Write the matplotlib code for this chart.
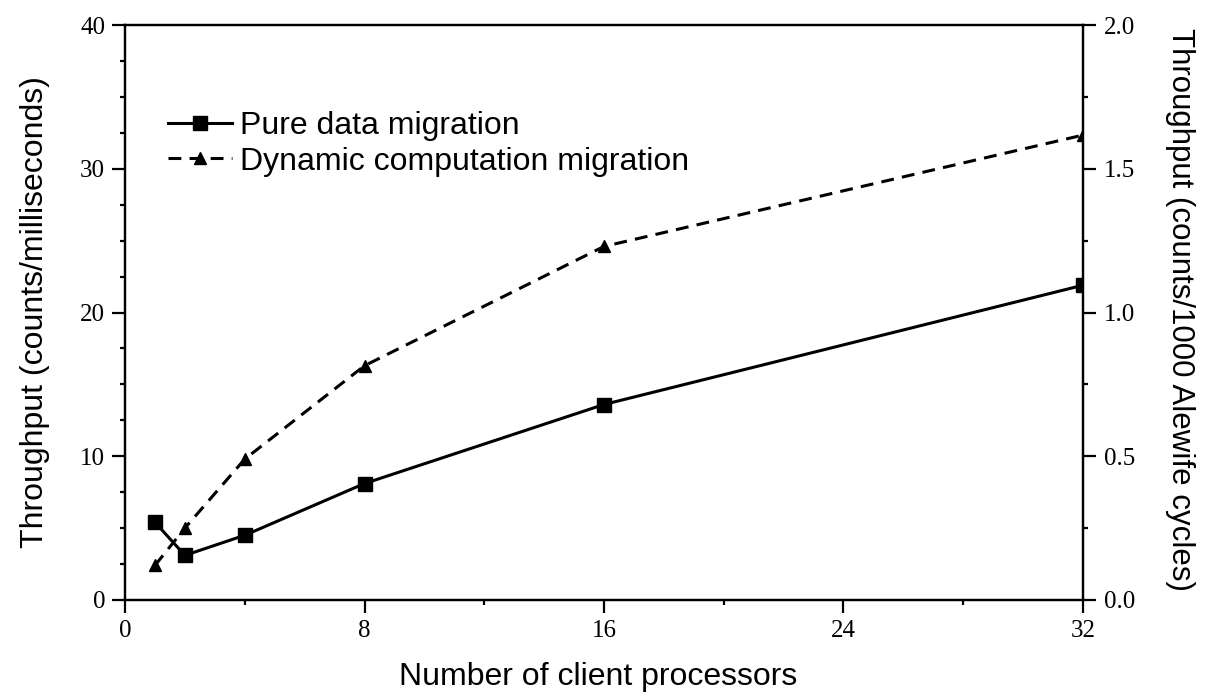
import matplotlib
matplotlib.use("Agg")
import matplotlib.pyplot as plt
from matplotlib.ticker import MultipleLocator, FormatStrFormatter

# data
procs = [1, 2, 4, 8, 16, 32]
pure_data = [5.4, 3.1, 4.5, 8.1, 13.6, 21.9]
dyn_comp = [2.4, 5.0, 9.8, 16.3, 24.6, 32.35]

serif = ['Liberation Serif', 'DejaVu Serif']
sans = ['Liberation Sans', 'DejaVu Sans']

fig = plt.figure(figsize=(12.14, 7.0), dpi=100)
ax = fig.add_axes([0.103, 0.143, 0.789, 0.821])

ax.plot(procs, pure_data, color='black', lw=2.2, marker='s', ms=10,
        label="Pure data migration")
ax.plot(procs, dyn_comp, color='black', lw=2.2, marker='^', ms=8,
        dashes=(4.2, 2.7), label="Dynamic computation migration")

ax.set_xlim(0, 32)
ax.set_ylim(0, 40)
ax.xaxis.set_major_locator(MultipleLocator(8))
ax.xaxis.set_minor_locator(MultipleLocator(4))
ax.yaxis.set_major_locator(MultipleLocator(10))
ax.yaxis.set_minor_locator(MultipleLocator(2.5))
ax.tick_params(which='major', direction='out', length=9.4, width=1.6, pad=5)
ax.tick_params(which='minor', direction='out', length=3.8, width=1.6)
ax.tick_params(top=False, right=False)
for s in ax.spines.values():
    s.set_linewidth(1.6)

ax2 = ax.twinx()
ax2.set_ylim(0, 2.0)
ax2.yaxis.set_major_locator(MultipleLocator(0.5))
ax2.yaxis.set_minor_locator(MultipleLocator(0.25))
ax2.yaxis.set_major_formatter(FormatStrFormatter('%.1f'))
ax2.tick_params(which='major', direction='out', length=9.4, width=1.6, pad=6)
ax2.tick_params(which='minor', direction='out', length=3.8, width=1.6)
for s in ax2.spines.values():
    s.set_linewidth(1.6)

for a in (ax, ax2):
    for lab in a.get_xticklabels() + a.get_yticklabels():
        lab.set_family(serif)
        lab.set_fontsize(18)

ax.set_xlabel("Number of client processors", family=sans, fontsize=23, va='center')
ax.xaxis.set_label_coords(0.494, -0.134)
ax.set_ylabel("Throughput (counts/milliseconds)", family=sans, fontsize=23, va='center')
ax.yaxis.set_label_coords(-0.0945, 0.5)
ax2.set_ylabel("Throughput (counts/1000 Alewife cycles)", family=sans, fontsize=22.5,
               rotation=270, va='center')
ax2.yaxis.set_label_coords(1.101, 0.505)

ax.legend(loc='upper left', bbox_to_anchor=(0.045, 0.851), frameon=False,
          prop={'family': sans, 'size': 23}, handlelength=2.0,
          handletextpad=0.25, labelspacing=0.18, borderpad=0, borderaxespad=0)

fig.savefig("out.png", dpi=100)
